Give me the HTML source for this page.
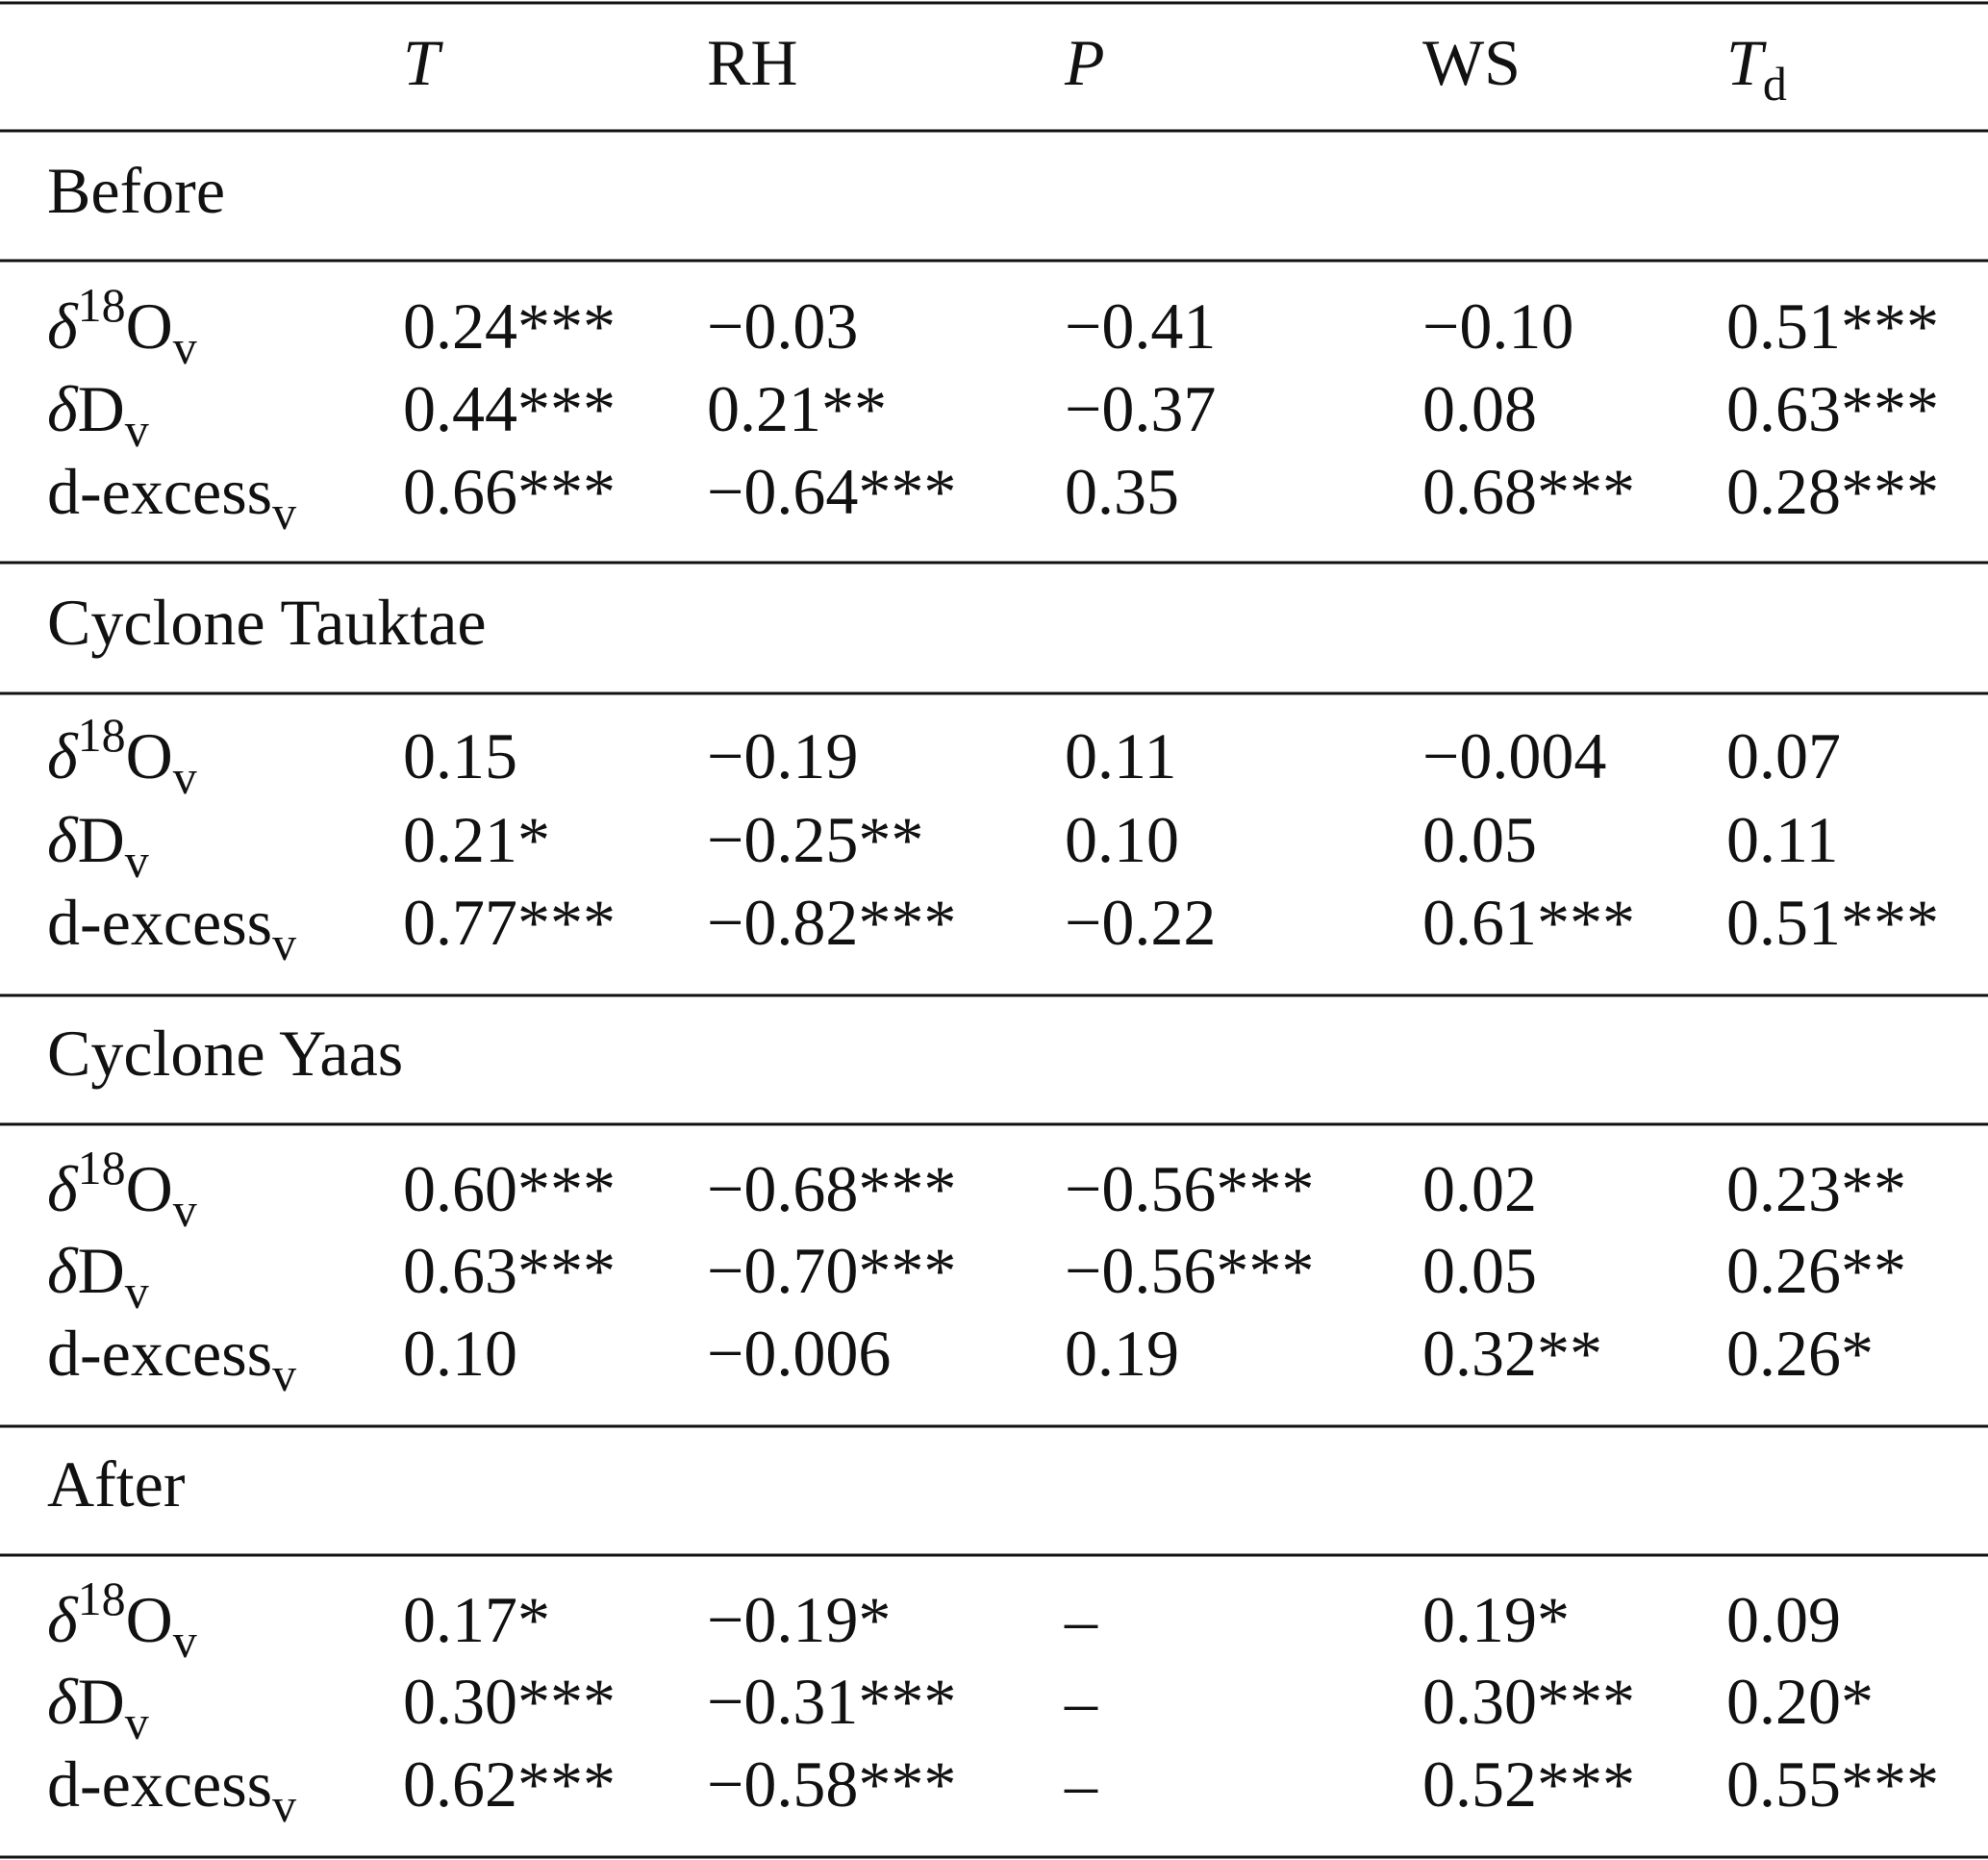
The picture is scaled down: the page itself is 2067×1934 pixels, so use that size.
<!DOCTYPE html>
<html><head><meta charset="utf-8"><style>
html,body{margin:0;padding:0;background:#fff;}
svg{display:block;}
text{font-family:"Liberation Serif","DejaVu Serif",serif;font-size:68px;fill:#111;}
</style></head><body>
<svg id="tbl" width="2067" height="1934" viewBox="0 0 2067 1934" xmlns="http://www.w3.org/2000/svg"></svg>
<script>
const colX=[49,419,735,1107,1479,1795];
const headers=[["T","i"],["RH",""],["P","i"],["WS",""],["Td","d"]];
const groups=["Before","Cyclone Tauktae","Cyclone Yaas","After"];
const rowLabels=["d18O","dD","dex"];
const vBefore=[["0.24***","−0.03","−0.41","−0.10","0.51***"],["0.44***","0.21**","−0.37","0.08","0.63***"],["0.66***","−0.64***","0.35","0.68***","0.28***"]];
const vTauktae=[["0.15","−0.19","0.11","−0.004","0.07"],["0.21*","−0.25**","0.10","0.05","0.11"],["0.77***","−0.82***","−0.22","0.61***","0.51***"]];
const vYaas=[["0.60***","−0.68***","−0.56***","0.02","0.23**"],["0.63***","−0.70***","−0.56***","0.05","0.26**"],["0.10","−0.006","0.19","0.32**","0.26*"]];
const vAfter=[["0.17*","−0.19*","–","0.19*","0.09"],["0.30***","−0.31***","–","0.30***","0.20*"],["0.62***","−0.58***","–","0.52***","0.55***"]];
const allVals=[vBefore,vTauktae,vYaas,vAfter];
const ruleY=[3,136,271,585,721,1035,1169,1483,1617,1931];
const groupY=[221,670,1118,1566];
const rowY=[[362,448,534],[809,896,982],[1259,1344,1430],[1707,1792,1878]];
const svg=document.getElementById('tbl');
const NS="http://www.w3.org/2000/svg";
function mk(tag,attrs){const e=document.createElementNS(NS,tag);for(const k in attrs)e.setAttribute(k,attrs[k]);return e;}
ruleY.forEach((y,i)=>{
  const l=mk('line',{x1:0,x2:2067,y1:y,y2:y,stroke:'#111','stroke-width':3});
  
  
  svg.appendChild(l);
});
headers.forEach((h,i)=>{
  const t=mk('text',{x:colX[i+1],y:88});
  
  
  if(h[1]==="i"){t.setAttribute('font-style','italic');t.textContent=h[0];}
  else if(h[1]==="d"){t.innerHTML='<tspan font-style="italic">T</tspan><tspan dy="16" font-size="50">d</tspan>';}
  else t.textContent=h[0];
  svg.appendChild(t);
});
function labelHTML(k){
  if(k==="d18O")return '<tspan font-style="italic">δ</tspan><tspan dy="-28" font-size="50">18</tspan><tspan dy="28">O</tspan><tspan dy="16" font-size="50">v</tspan>';
  if(k==="dD")return '<tspan font-style="italic">δ</tspan>D<tspan dy="16" font-size="50">v</tspan>';
  return 'd-excess<tspan dy="16" font-size="50">v</tspan>';
}
groups.forEach((g,gi)=>{
  const t=mk('text',{x:colX[0],y:groupY[gi]});
  
  
  t.textContent=g;svg.appendChild(t);
  rowLabels.forEach((r,ri)=>{
    const lt=mk('text',{x:colX[0],y:rowY[gi][ri]});
    
    
    lt.innerHTML=labelHTML(r);svg.appendChild(lt);
    allVals[gi][ri].forEach((v,ci)=>{
      const vt=mk('text',{x:colX[ci+1],y:rowY[gi][ri]});
      
      
      vt.textContent=v;svg.appendChild(vt);
    });
  });
});
</script>
</body></html>
